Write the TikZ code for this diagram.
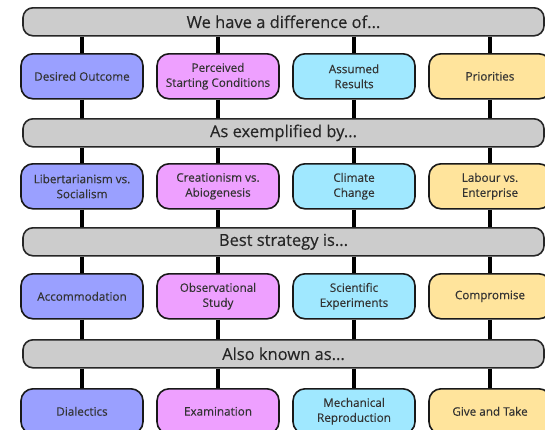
\documentclass[tikz,border=0pt]{standalone}
\usepackage{fontspec}
\setmainfont{Open Sans}[FakeBold=0.25]
\usepackage{xcolor}
\usepackage{tikz}
\usetikzlibrary{positioning}

\definecolor{barGray}{HTML}{CCCCCC}
\definecolor{outBlue}{HTML}{9AA0FF}
\definecolor{startPink}{HTML}{EEA0FF}
\definecolor{resCyan}{HTML}{A0E8FF}
\definecolor{priYellow}{HTML}{FFE49C}

\begin{document}
\begin{tikzpicture}[x=1pt, y=-1pt,
  bar/.style={draw=black!85, line width=1.6pt, fill=barGray, rounded corners=10pt, minimum width=521pt, minimum height=28pt, inner sep=0pt, font=\fontsize{16.5}{18}\selectfont, text=black!85},
  pick/.style={draw=black!90, line width=1.6pt, rounded corners=12pt, minimum width=122pt, minimum height=45pt, inner sep=2pt, align=center, font=\fontsize{11.7}{15}\selectfont, text=black!80},
  stem/.style={line width=3.6pt, black}]
\clip (0,0) rectangle (545,429);

\coordinate(O1) at (283.5,0);
\coordinate(C1) at (82,0);
\coordinate(C2) at (218,0);
\coordinate(C3) at (354,0);
\coordinate(C4) at (490,0);

\node[below=7pt of O1, bar](bar1) {We have a difference of...};
\node[below=118pt of O1, bar](bar2) {As exemplified by...};
\node[below=227pt of O1, bar](bar3) {Best strategy is...};
\node[below=339pt of O1, bar](bar4) {Also known as...};

\node[below=53pt of C1, pick, fill=outBlue](a1) {Desired Outcome};
\node[below=53pt of C2, pick, fill=startPink](a2) {Perceived\\Starting Conditions};
\node[below=53pt of C3, pick, fill=resCyan](a3) {Assumed\\Results};
\node[below=53pt of C4, pick, fill=priYellow](a4) {Priorities};

\node[below=163pt of C1, pick, fill=outBlue](b1) {Libertarianism vs.\\Socialism};
\node[below=163pt of C2, pick, fill=startPink](b2) {Creationism vs.\\Abiogenesis};
\node[below=163pt of C3, pick, fill=resCyan](b3) {Climate\\Change};
\node[below=163pt of C4, pick, fill=priYellow](b4) {Labour vs.\\Enterprise};

\node[below=273pt of C1, pick, fill=outBlue](c1) {Accommodation};
\node[below=273pt of C2, pick, fill=startPink](c2) {Observational\\Study};
\node[below=273pt of C3, pick, fill=resCyan](c3) {Scientific\\Experiments};
\node[below=273pt of C4, pick, fill=priYellow](c4) {Compromise};

\node[below=388pt of C1, pick, fill=outBlue](d1) {Dialectics};
\node[below=388pt of C2, pick, fill=startPink](d2) {Examination};
\node[below=388pt of C3, pick, fill=resCyan](d3) {Mechanical\\Reproduction};
\node[below=388pt of C4, pick, fill=priYellow](d4) {Give and Take};

\foreach \i in {1,...,4}{
  \draw[stem] (bar1.south -| a\i) -- (a\i);
  \draw[stem] (a\i) -- (bar2.north -| a\i);
  \draw[stem] (bar2.south -| b\i) -- (b\i);
  \draw[stem] (b\i) -- (bar3.north -| b\i);
  \draw[stem] (bar3.south -| c\i) -- (c\i);
  \draw[stem] (c\i) -- (bar4.north -| c\i);
  \draw[stem] (bar4.south -| d\i) -- (d\i);
}
\end{tikzpicture}
\end{document}
